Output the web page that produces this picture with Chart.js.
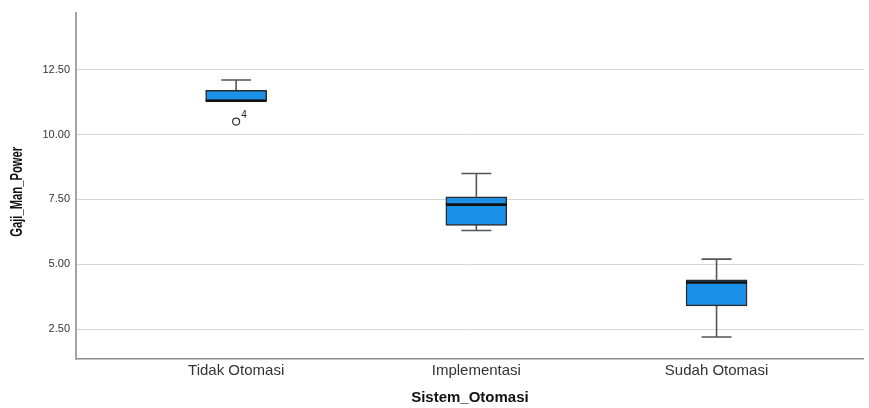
<!DOCTYPE html>
<html>
<head>
<meta charset="utf-8">
<script src="https://cdn.jsdelivr.net/npm/chart.js@4/dist/chart.umd.min.js"></script>
<style>
  html, body { margin: 0; padding: 0; background: #ffffff; }
  #wrap { width: 869px; height: 408px; }
</style>
</head>
<body>
<div id="wrap"><canvas id="c" width="869" height="408"></canvas></div>
<script>
// Groups on the horizontal axis
const categories = ['Tidak Otomasi', 'Implementasi', 'Sudah Otomasi'];

// Five-number summary per group
const whiskerLow  = [11.3, 6.3, 2.2];
const q1          = [11.3, 6.5, 3.4];
const median      = [11.3, 7.3, 4.3];
const q3          = [11.7, 7.6, 4.4];
const whiskerHigh = [12.1, 8.5, 5.2];

// Outlying cases: group index, value, case number
const outlierGroup = [0];
const outlierValue = [10.5];
const outlierCase  = ['4'];

// Value axis ticks
const yTicks = [2.5, 5, 7.5, 10, 12.5];

const yTitle = 'Gaji_Man_Power';

const positions = categories.map((_, i) => i + 1);

const boxData = positions.map((x, i) => ({ x: x, y: [q1[i], q3[i]] }));
const outlierData = outlierGroup.map((g, i) => ({ x: positions[g], y: outlierValue[i], label: outlierCase[i] }));

const BOX_COLOR = 'rgb(28,145,233)';

const boxPlotPlugin = {
  id: 'boxPlotParts',
  beforeDatasetsDraw(chart) {
    const { ctx, scales: { x, y } } = chart;
    const capHalf = 15;
    ctx.save();
    ctx.strokeStyle = '#555555';
    ctx.lineWidth = 1.6;
    positions.forEach((p, i) => {
      const px = x.getPixelForValue(p);
      const yLo = y.getPixelForValue(whiskerLow[i]);
      const yQ1 = y.getPixelForValue(q1[i]);
      const yQ3 = y.getPixelForValue(q3[i]);
      const yHi = y.getPixelForValue(whiskerHigh[i]);
      ctx.beginPath();
      ctx.moveTo(px, yQ3); ctx.lineTo(px, yHi);
      ctx.moveTo(px - capHalf, yHi); ctx.lineTo(px + capHalf, yHi);
      if (whiskerLow[i] < q1[i]) {
        ctx.moveTo(px, yQ1); ctx.lineTo(px, yLo);
        ctx.moveTo(px - capHalf, yLo); ctx.lineTo(px + capHalf, yLo);
      }
      ctx.stroke();
    });
    ctx.restore();
  },
  afterDatasetsDraw(chart) {
    const { ctx, scales: { x, y } } = chart;
    const bars = chart.getDatasetMeta(0).data;
    ctx.save();
    ctx.strokeStyle = '#111111';
    ctx.lineWidth = 2.6;
    positions.forEach((p, i) => {
      const px = x.getPixelForValue(p);
      const half = bars[i].width / 2;
      const ym = y.getPixelForValue(median[i]);
      ctx.beginPath();
      ctx.moveTo(px - half, ym);
      ctx.lineTo(px + half, ym);
      ctx.stroke();
    });
    // case numbers beside outliers
    ctx.fillStyle = '#222222';
    ctx.font = '10px "Liberation Sans", Arial, sans-serif';
    ctx.textAlign = 'left';
    ctx.textBaseline = 'middle';
    outlierData.forEach(o => {
      const px = x.getPixelForValue(o.x);
      const py = y.getPixelForValue(o.y);
      ctx.fillText(o.label, px + 5, py - 6);
    });
    ctx.restore();
  },
  afterDraw(chart) {
    // condensed bold title for the value axis
    const { ctx, chartArea } = chart;
    ctx.save();
    ctx.font = 'bold 16px "Liberation Sans", Arial, sans-serif';
    ctx.fillStyle = '#111111';
    ctx.textAlign = 'center';
    ctx.textBaseline = 'middle';
    const w = ctx.measureText(yTitle).width;
    const squeeze = 90 / w;
    ctx.translate(18, (chartArea.top + chartArea.bottom) / 2 + 6);
    ctx.rotate(-Math.PI / 2);
    ctx.scale(squeeze, 1);
    ctx.fillText(yTitle, 0, 0);
    ctx.restore();
  }
};

new Chart(document.getElementById('c'), {
  type: 'bar',
  data: {
    datasets: [
      {
        type: 'bar',
        data: boxData,
        backgroundColor: BOX_COLOR,
        borderColor: '#2a2a2a',
        borderWidth: 1.5,
        borderSkipped: false,
        barThickness: 61,
        order: 2
      },
      {
        type: 'scatter',
        data: outlierData,
        pointStyle: 'circle',
        pointRadius: 3.5,
        pointBackgroundColor: '#ffffff',
        pointBorderColor: '#333333',
        pointBorderWidth: 1.2,
        order: 1
      }
    ]
  },
  options: {
    responsive: false,
    devicePixelRatio: 1,
    animation: false,
    layout: { padding: { top: 12, right: -5, left: 0, bottom: 0 } },
    plugins: { legend: { display: false }, tooltip: { enabled: false } },
    scales: {
      x: {
        type: 'linear',
        min: 0.3333,
        max: 3.613,
        offset: false,
        afterBuildTicks(scale) { scale.ticks = positions.map(v => ({ value: v })); },
        afterFit(scale) {
          scale.height = 49;
          scale.paddingLeft = 0;
          scale.paddingRight = 0;
        },
        ticks: {
          callback: (v) => categories[v - 1] || '',
          color: '#333333',
          padding: 3,
          maxRotation: 0,
          autoSkip: false,
          font: { family: '"Liberation Sans", Arial, sans-serif', size: 15 }
        },
        grid: { display: false, drawTicks: false },
        border: { display: true, color: '#8c8c8c', width: 1.5 },
        title: {
          display: true,
          text: 'Sistem_Otomasi',
          color: '#111111',
          padding: { top: 1, bottom: 1 },
          font: { family: '"Liberation Sans", Arial, sans-serif', size: 15, weight: 'bold' }
        }
      },
      y: {
        type: 'linear',
        min: 1.35,
        max: 14.7,
        afterBuildTicks(scale) { scale.ticks = yTicks.map(v => ({ value: v })); },
        afterFit(scale) { scale.width = 76; },
        ticks: {
          callback: (v) => Number(v).toFixed(2),
          color: '#333333',
          padding: 6,
          font: { family: '"Liberation Sans", Arial, sans-serif', size: 11 }
        },
        grid: { color: '#d6d6d6', lineWidth: 1, drawTicks: false },
        border: { display: true, color: '#a3a3a3', width: 2 },
        title: { display: false }
      }
    }
  },
  plugins: [boxPlotPlugin]
});
</script>
</body>
</html>
